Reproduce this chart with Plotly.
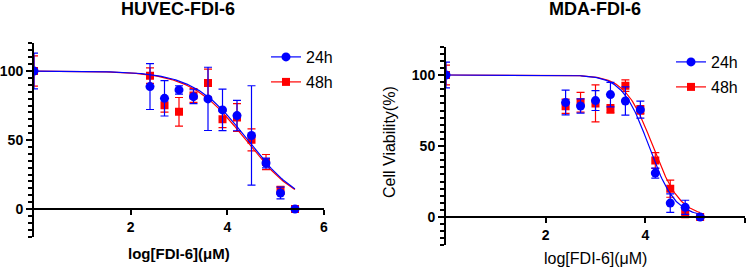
import numpy as np
import plotly.graph_objects as go

W, H = 749, 270

# ---------------- data ----------------
huvec_x = [0, 2.4, 2.7, 3.0, 3.3, 3.6, 3.9, 4.2, 4.5, 4.8, 5.1, 5.4]
huvec_24 = [100, 88.7, 80.2, 86.3, 81.4, 79.8, 71.8, 67.7, 53.3, 33.3, 11.6, 0]
huvec_24_err = [13, 16.6, 12.8, 3, 5, 22.9, 15, 11, 36, 3.5, 4.3, 1]
huvec_48 = [100, 96.6, 75.2, 70.4, 82.2, 91.3, 65.0, 66.3, 50.1, 34.0, 13.5, 0]
huvec_48_err = [11, 5.6, 5, 10.4, 5, 10, 6, 10, 8, 5.5, 3, 1]

mda_x = [0, 2.4, 2.7, 3.0, 3.3, 3.6, 3.9, 4.2, 4.5, 4.8, 5.1]
mda_24 = [100, 80.6, 78.2, 82.0, 86.2, 81.7, 75.6, 30.9, 9.8, 6.8, 0]
mda_24_err = [9, 8.7, 5, 7, 8.6, 10, 6, 3.5, 6.5, 5, 0.8]
mda_48 = [100, 78.0, 80.8, 80.0, 76.1, 92.5, 75.4, 39.8, 19.9, 3.3, 0]
mda_48_err = [7, 5, 7, 13, 3, 4, 3, 5.6, 6, 3.7, 0.8]

# fitted dose-response parameters: [logIC50, hill slope]
huvec_fit_24 = [4.42, 0.78]
huvec_fit_48 = [4.38, 0.77]
mda_fit_24 = [4.07, 1.65]
mda_fit_48 = [4.15, 1.57]

series_names = ["24h", "48h"]
x_ticks = [2, 4, 6]
y_ticks = [0, 50, 100]
titles = ["HUVEC-FDI-6", "MDA-FDI-6"]
x_title = "log[FDI-6](μM)"
y_title = "Cell Viability(%)"

BLUE = "#0000FF"
RED = "#FF0000"
FONT = "Arial, Liberation Sans, sans-serif"


def fit_curve(xmax, params):
    xs = np.linspace(0, xmax, 200)
    c, h = params
    return xs, 100.0 / (1.0 + 10 ** ((xs - c) * h))


def px_x(p):
    return p / W


def px_y(p):
    return 1 - p / H


fig = go.Figure()

panels = [
    dict(x=huvec_x, d24=huvec_24, e24=huvec_24_err, d48=huvec_48, e48=huvec_48_err,
         f24=huvec_fit_24, f48=huvec_fit_48, xa="x", ya="y", legs=["legend", "legend2"]),
    dict(x=mda_x, d24=mda_24, e24=mda_24_err, d48=mda_48, e48=mda_48_err,
         f24=mda_fit_24, f48=mda_fit_48, xa="x2", ya="y2", legs=["legend3", "legend4"]),
]

for p in panels:
    xmax = max(p["x"])
    # 48h first (drawn under 24h)
    for d, e, f, col, sym, size in [
        (p["d48"], p["e48"], p["f48"], RED, "square", 8),
        (p["d24"], p["e24"], p["f24"], BLUE, "circle", 9),
    ]:
        cx, cy = fit_curve(xmax, f)
        fig.add_trace(go.Scatter(x=cx, y=cy, mode="lines", line=dict(color=col, width=1.2),
                                 xaxis=p["xa"], yaxis=p["ya"], showlegend=False, hoverinfo="skip"))
        fig.add_trace(go.Scatter(x=p["x"], y=d, mode="markers",
                                 marker=dict(color=col, symbol=sym, size=size),
                                 error_y=dict(type="data", array=e, color=col, thickness=1.2, width=4),
                                 xaxis=p["xa"], yaxis=p["ya"], showlegend=False))
    # legend entries
    for name, col, sym, size, leg in [(series_names[0], BLUE, "circle", 9, p["legs"][0]),
                                      (series_names[1], RED, "square", 8, p["legs"][1])]:
        fig.add_trace(go.Scatter(x=[None], y=[None], mode="lines+markers", name=name,
                                 line=dict(color=col, width=1.2),
                                 marker=dict(color=col, symbol=sym, size=size),
                                 xaxis=p["xa"], yaxis=p["ya"], legend=leg))

# ------------- layout geometry (pixels) -------------
YMIN, YMAX = -20, 120
left = dict(x0=34, x1=324, ytop=43.4, ybot=236.6)
right = dict(x0=446, x1=745, ytop=46.6, ybot=245.4)


def axis_pos(g):
    d0, d1 = px_y(g["ybot"]), px_y(g["ytop"])
    return [d0, d1], d0 + (0 - YMIN) / (YMAX - YMIN) * (d1 - d0)


ldom, lpos = axis_pos(left)
rdom, rpos = axis_pos(right)

tickfont = dict(family=FONT, size=14, color="#000", weight="bold")


def xaxis(dom, pos):
    return dict(domain=dom, range=[0, 6], anchor="free", position=pos,
                tickvals=x_ticks, ticks="outside", ticklen=5, tickwidth=2, tickcolor="#000",
                showline=True, linewidth=2, linecolor="#000", showgrid=False, zeroline=False,
                tickfont=tickfont, automargin=False)


def yaxis(dom, xanchor):
    return dict(domain=dom, range=[YMIN, YMAX], anchor=xanchor, tickvals=y_ticks,
                ticks="outside", ticklen=6, tickwidth=2, tickcolor="#000",
                minor=dict(ticks="outside", dtick=5, tick0=0, ticklen=4, tickwidth=1.5, tickcolor="#000"),
                showline=True, linewidth=2, linecolor="#000", showgrid=False, zeroline=False,
                tickfont=tickfont, automargin=False)


def legend(xp, yp):
    return dict(x=px_x(xp), y=px_y(yp), xanchor="left", yanchor="middle",
                font=dict(family=FONT, size=16, color="#000"), bgcolor="rgba(0,0,0,0)")


fig.update_layout(
    width=W, height=H, margin=dict(l=0, r=0, t=0, b=0),
    paper_bgcolor="white", plot_bgcolor="white",
    font=dict(family=FONT, color="#000"),
    xaxis=xaxis([px_x(left["x0"]), px_x(left["x1"])], lpos),
    yaxis=yaxis(ldom, "x"),
    xaxis2=xaxis([px_x(right["x0"]), px_x(right["x1"])], rpos),
    yaxis2=yaxis(rdom, "x2"),
    legend=legend(266, 57),
    legend2=legend(266, 82),
    legend3=legend(671, 62),
    legend4=legend(671, 87),
    showlegend=True,
)

ann = [
    dict(text=titles[0], x=px_x(178), y=px_y(9), font=dict(size=18, weight="bold")),
    dict(text=titles[1], x=px_x(595), y=px_y(9), font=dict(size=18, weight="bold")),
    dict(text=x_title, x=px_x(179), y=px_y(253), font=dict(size=15, weight="bold")),
    dict(text=x_title, x=px_x(595), y=px_y(258), font=dict(size=16)),
    dict(text=y_title, x=px_x(389), y=px_y(142), font=dict(size=16), textangle=-90),
]
for a in ann:
    a["font"]["family"] = FONT
    a["font"]["color"] = "#000"
    fig.add_annotation(xref="paper", yref="paper", xanchor="center", yanchor="middle",
                       showarrow=False, **a)

fig.write_html("out.html")
